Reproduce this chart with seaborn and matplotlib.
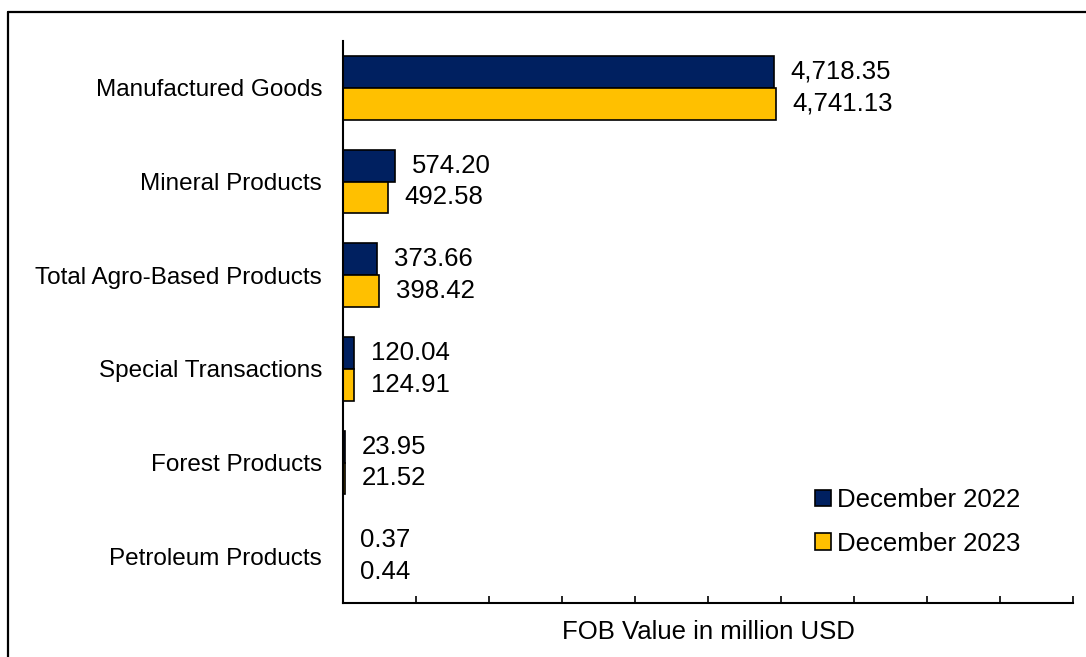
import matplotlib
matplotlib.use("Agg")
import matplotlib.pyplot as plt
import seaborn as sns
import pandas as pd
import numpy as np
from matplotlib.lines import Line2D
from matplotlib.patches import Patch

categories = ["Manufactured Goods", "Mineral Products", "Total Agro-Based Products",
              "Special Transactions", "Forest Products", "Petroleum Products"]
series = ["December 2022", "December 2023"]
dec_2022 = [4718.35, 574.20, 373.66, 120.04, 23.95, 0.37]
dec_2023 = [4741.13, 492.58, 398.42, 124.91, 21.52, 0.44]
colors = ["#002060", "#FFC000"]

df = pd.DataFrame({
    "Category": categories * 2,
    "Period": [series[0]] * len(categories) + [series[1]] * len(categories),
    "Value": dec_2022 + dec_2023,
})

sns.set_theme(style="white")
plt.rcParams["font.family"] = ["Liberation Sans", "DejaVu Sans"]
plt.rcParams["text.color"] = "black"

fig = plt.figure(figsize=(10.86, 6.57), dpi=100)
ax = fig.add_axes([343/1086, 1-603/657, (1073-343)/1086, (603-41)/657])

sns.barplot(data=df, y="Category", x="Value", hue="Period", order=categories,
            hue_order=series, palette=colors, orient="h", ax=ax,
            width=0.68, edgecolor="black", linewidth=1.2, legend=False, saturation=1)

for cont in ax.containers:
    labels = [f"{v:,.2f}" for v in cont.datavalues]
    ax.bar_label(cont, labels=labels, padding=12, fontsize=18.5, color="black")

ax.set_xlim(0, 8000)
ax.set_ylim(5.5, -0.5)
ax.set_xticks(np.arange(0, 8001, 800))
ax.set_xticklabels([])
ax.tick_params(axis="x", direction="in", length=5, width=1.2, color="black", bottom=True)
ax.tick_params(axis="y", left=False, pad=9, labelsize=17.5, labelcolor="black")
ax.set_ylabel("")
ax.set_xlabel("FOB Value in million USD", fontsize=18.5, labelpad=9, color="black")
for s in ["top", "right"]:
    ax.spines[s].set_visible(False)
for s in ["left", "bottom"]:
    ax.spines[s].set_color("black")
    ax.spines[s].set_linewidth(1.5)

handles = [Patch(facecolor=c, edgecolor="black", linewidth=1.2, label=l) for c, l in zip(colors, series)]
fig.legend(handles=handles, loc="upper left", bbox_to_anchor=(805/1086, 1-478/657),
           frameon=False, fontsize=18.5, handlelength=0.6, handleheight=0.6,
           handletextpad=0.25, labelspacing=0.75, borderaxespad=0, labelcolor="black")

fig.add_artist(Line2D([8/1086, 1.0], [1-12/657, 1-12/657], color="black", linewidth=1.6,
                      transform=fig.transFigure))
fig.add_artist(Line2D([8/1086, 8/1086], [0, 1-12/657], color="black", linewidth=1.6,
                      transform=fig.transFigure))

fig.savefig("out.png", dpi=100, facecolor="white")
